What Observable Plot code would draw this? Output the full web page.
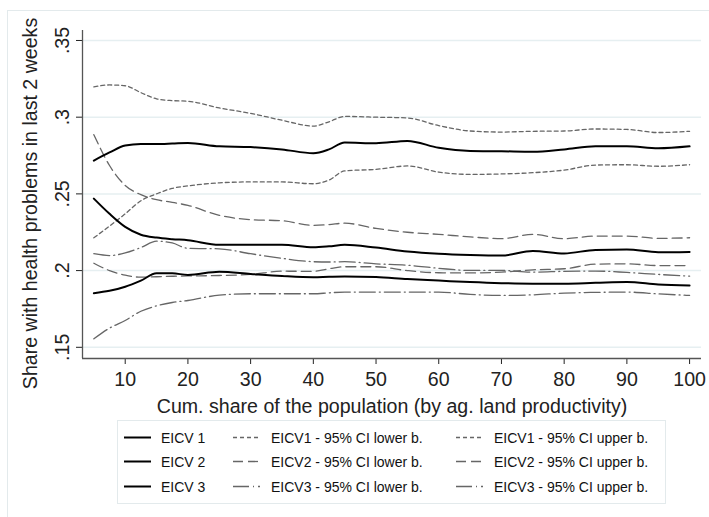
<!DOCTYPE html>
<html><head><meta charset="utf-8">
<script src="https://cdn.jsdelivr.net/npm/d3@7"></script>
<script src="https://cdn.jsdelivr.net/npm/@observablehq/plot@0.6"></script>
<style>
body{margin:0;background:#fff;font-family:"Liberation Sans",Arial,sans-serif;}
#wrap{position:relative;width:709px;height:517px;overflow:hidden;background:#fff;}
#outer{position:absolute;left:7px;top:10px;width:760px;height:560px;border-left:1px solid #e3eaec;border-top:1px solid #e3eaec;}
#chart{position:absolute;left:0;top:0;}
#legend{position:absolute;left:117px;top:420px;}
</style></head><body>
<div id="wrap"><div id="outer"></div><div id="chart"></div><div id="legend"></div></div>
<script>
const xs = [5,7.5,10,12.5,15,17.5,20,25,30,35,40,42.5,45,50,55,60,65,70,75,80,85,90,95,100];
const eicv1Mean  = [.2717,.277,.2815,.2825,.2825,.2828,.2832,.281,.2805,.279,.2765,.279,.2835,.283,.2845,.280,.278,.2778,.2775,.279,.281,.281,.2797,.281];
const eicv1Upper = [.3197,.321,.3205,.316,.312,.3108,.3104,.306,.3025,.298,.2942,.297,.3005,.300,.2995,.2945,.291,.2903,.2908,.291,.2923,.292,.290,.2908];
const eicv1Lower = [.2214,.229,.237,.2455,.250,.2536,.2552,.2572,.2578,.2578,.2566,.259,.265,.266,.2682,.2642,.2627,.263,.2638,.2655,.2688,.269,.268,.269];
const eicv2Mean  = [.2469,.237,.2285,.2234,.2215,.2205,.2198,.2168,.2168,.2168,.2152,.2158,.2168,.215,.2125,.211,.2102,.2098,.2128,.2112,.2135,.2138,.212,.2122];
const eicv2Upper = [.2886,.2685,.2555,.2495,.2462,.2445,.2425,.236,.2332,.2325,.2295,.230,.2309,.2275,.225,.2236,.222,.2208,.2236,.2208,.2225,.2225,.221,.2214];
const eicv2Lower = [.2048,.200,.197,.1957,.196,.1963,.1965,.1968,.1975,.1996,.1995,.2012,.2025,.2025,.200,.1986,.1985,.199,.2005,.2012,.2042,.2044,.2033,.2033];
const eicv3Mean  = [.1853,.1868,.1895,.1935,.1982,.1982,.1972,.1992,.1978,.1965,.1957,.196,.1962,.1958,.1945,.1935,.1925,.1918,.1915,.1915,.192,.1925,.191,.1903];
const eicv3Upper = [.2110,.2098,.2115,.215,.2192,.218,.2145,.2142,.211,.208,.2058,.2056,.2058,.2044,.2035,.2015,.2001,.2001,.199,.1995,.1997,.1988,.1975,.1964];
const eicv3Lower = [.1555,.1625,.1675,.1735,.177,.1792,.1805,.184,.1849,.1849,.1849,.1855,.186,.186,.186,.186,.1845,.1838,.1842,.1853,.1858,.186,.1848,.1838];

const xTicks = [10,20,30,40,50,60,70,80,90,100];
const yTicks = [.15,.2,.25,.3,.35];
const xTitle = "Cum. share of the population (by ag. land productivity)";
const yTitle = "Share with health problems in last 2 weeks";
const legendCol1 = ["EICV 1","EICV 2","EICV 3"];
const legendCol2 = ["EICV1 - 95% CI lower b.","EICV2 - 95% CI lower b.","EICV3 - 95% CI lower b."];
const legendCol3 = ["EICV1 - 95% CI upper b.","EICV2 - 95% CI upper b.","EICV3 - 95% CI upper b."];

const xDomain = [3.19, 101.9];
const yDomain = [0.1427, 0.3565];

const rows = vals => xs.map((x, i) => ({x, y: vals[i]}));
const dash1 = "4,3", dash2 = "10,5", dash3 = "16,4,1,4";
const ciColor = "#666";
const ciW = 1.3;
const ci = (vals, dash) => Plot.line(rows(vals), {x: "x", y: "y", stroke: ciColor, strokeWidth: ciW, strokeDasharray: dash, curve: "monotone-x"});
const mean = vals => Plot.line(rows(vals), {x: "x", y: "y", stroke: "#000", strokeWidth: 2, curve: "monotone-x"});

const chart = Plot.plot({
  width: 709, height: 420,
  marginLeft: 82, marginRight: 8, marginTop: 30, marginBottom: 62,
  style: {fontFamily: "'Liberation Sans', Arial, sans-serif", fontSize: "19.6px", color: "#222", background: "transparent", overflow: "visible"},
  x: {domain: xDomain, ticks: xTicks, tickFormat: d => String(d), label: xTitle, labelAnchor: "center", labelOffset: 54, tickSize: 6, tickPadding: 8, labelArrow: false},
  y: {domain: yDomain, ticks: yTicks, tickFormat: d => String(d).replace(/^0\./, "."), label: null, tickSize: 6, tickPadding: 8, tickRotate: -90},
  marks: [
    Plot.ruleY(yTicks, {stroke: "#e6eff1", strokeWidth: 1.5}),
    ci(eicv1Upper, dash1), ci(eicv1Lower, dash1),
    ci(eicv2Upper, dash2), ci(eicv2Lower, dash2),
    ci(eicv3Upper, dash3), ci(eicv3Lower, dash3),
    mean(eicv1Mean), mean(eicv2Mean), mean(eicv3Mean),
    Plot.ruleX([xDomain[0]], {stroke: "#555", strokeWidth: 1.3}),
    Plot.ruleY([yDomain[0]], {stroke: "#555", strokeWidth: 1.3}),
    Plot.text([yTitle], {frameAnchor: "left", rotate: -90, dx: -59, dy: 9, lineAnchor: "top", textAnchor: "middle", fill: "#222", fontSize: 19.6})
  ]
});
document.getElementById("chart").appendChild(chart);

// legend
const lw = 549, lh = 84;
const svg = d3.select("#legend").append("svg").attr("width", lw).attr("height", lh)
  .style("font-family", "'Liberation Sans', Arial, sans-serif").style("font-size", "14px");
svg.append("rect").attr("x", 0.5).attr("y", 0.5).attr("width", lw - 1).attr("height", lh - 1)
  .attr("fill", "#fff").attr("stroke", "#e3eaec");
const rowY = [17.5, 41.5, 66.5];
const cols = [
  {items: legendCol1, x0: 7, x1: 34, tx: 44, dashes: [null, null, null], color: "#000", w: 2},
  {items: legendCol2, x0: 116, x1: 143, tx: 154, dashes: [dash1, dash2, dash3], color: ciColor, w: ciW},
  {items: legendCol3, x0: 339, x1: 366, tx: 377, dashes: [dash1, dash2, dash3], color: ciColor, w: ciW}
];
cols.forEach(c => c.items.forEach((t, i) => {
  const ln = svg.append("line").attr("x1", c.x0).attr("x2", c.x1).attr("y1", rowY[i]).attr("y2", rowY[i])
    .attr("stroke", c.color).attr("stroke-width", c.w);
  if (c.dashes[i]) ln.attr("stroke-dasharray", c.dashes[i]);
  svg.append("text").attr("x", c.tx).attr("y", rowY[i]).attr("dy", "0.36em").attr("fill", "#111").text(t);
}));
</script>
</body></html>
